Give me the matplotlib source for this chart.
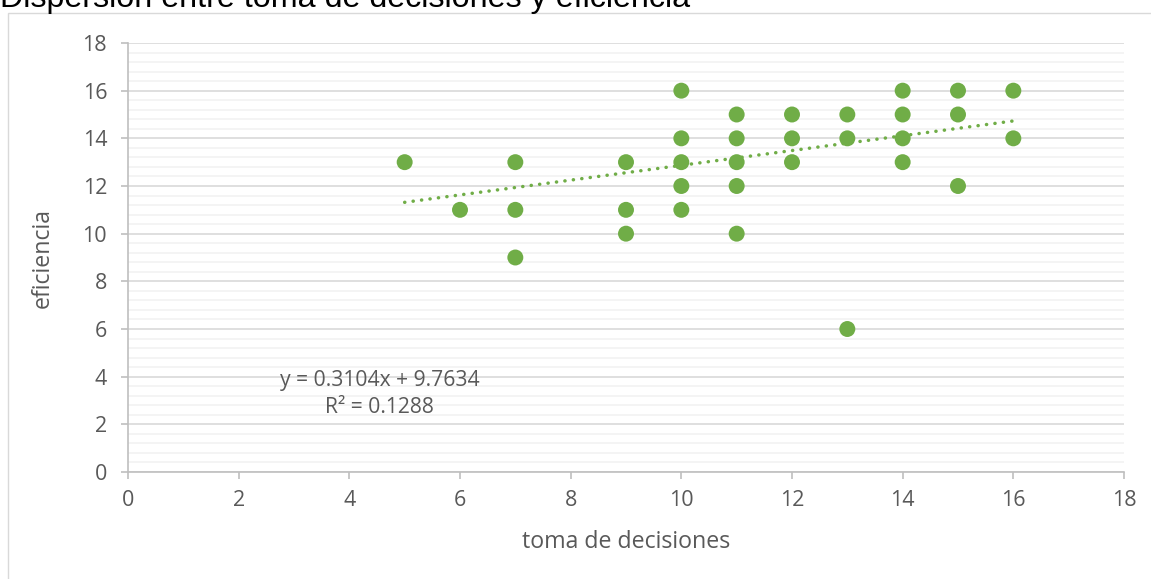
import matplotlib
matplotlib.use("Agg")
import matplotlib.pyplot as plt
from matplotlib.ticker import MultipleLocator
from matplotlib.patches import Rectangle
import numpy as np

plt.rcParams['font.family'] = ['Open Sans', 'DejaVu Sans']

toma_decisiones = [5, 6, 7, 7, 7, 9, 9, 9, 10, 10, 10, 10, 10, 11, 11, 11, 11, 11,
                   12, 12, 12, 13, 13, 13, 14, 14, 14, 14, 15, 15, 15, 16, 16]
eficiencia = [13, 11, 13, 11, 9, 13, 11, 10, 16, 14, 13, 12, 11, 15, 14, 13, 12, 10,
              15, 14, 13, 15, 14, 6, 16, 15, 14, 13, 16, 15, 12, 16, 14]
trend_slope = 0.3104
trend_intercept = 9.7634
r_squared = 0.1288

title = "Dispersión entre toma de decisiones y eficiencia"
x_label = "toma de decisiones"
y_label = "eficiencia"

green = "#70AD47"
text_col = "#595959"

W, H = 1151, 579
fig = plt.figure(figsize=(W / 100, H / 100), dpi=100)
ax = fig.add_axes([128 / W, 1 - 472 / H, (1124 - 128) / W, (472 - 43) / H])

# chart border
fig.patches.append(Rectangle((8 / W, -0.01), 1.2, 1 - 13 / H + 0.01, transform=fig.transFigure,
                             fill=False, edgecolor="#D9D9D9", linewidth=1.0))

ax.set_xlim(0, 18)
ax.set_ylim(0, 18)
ax.xaxis.set_major_locator(MultipleLocator(2))
ax.yaxis.set_major_locator(MultipleLocator(2))
ax.yaxis.set_minor_locator(MultipleLocator(0.4))
ax.grid(which='major', axis='y', color="#D9D9D9", linewidth=1.2, zorder=0)
ax.grid(which='minor', axis='y', color="#F2F2F2", linewidth=1.2, zorder=0)
ax.set_axisbelow(True)

for s in ['top', 'right']:
    ax.spines[s].set_visible(False)
for s in ['left', 'bottom']:
    ax.spines[s].set_color("#BFBFBF")
    ax.spines[s].set_linewidth(1.2)

ax.tick_params(axis='both', which='major', length=5, width=1.2, color="#BFBFBF",
               labelcolor=text_col, labelsize=15.5)
ax.tick_params(axis='y', which='minor', length=0)
ax.tick_params(axis='x', pad=8)
ax.tick_params(axis='y', pad=10)

ax.scatter(toma_decisiones, eficiencia, s=132, color=green, edgecolors='none', zorder=3)

xs = np.array([min(toma_decisiones), max(toma_decisiones)])
ax.plot(xs, trend_slope * xs + trend_intercept, color=green, linewidth=2.5,
        linestyle=(0, (0.05, 2.4)), dash_capstyle='round', zorder=4)

ax.text(4.55, 3.82, f"y = {trend_slope}x + {trend_intercept}", ha='center', va='center',
        fontsize=15.2, color=text_col)
ax.text(4.55, 2.69, f"R² = {r_squared}", ha='center', va='center',
        fontsize=15.2, color=text_col)

ax.set_xlabel(x_label, fontsize=16.7, color=text_col, labelpad=14)
ax.set_ylabel(y_label, fontsize=16.7, color=text_col, labelpad=20)

fig.text(0.0, 1 - 7 / H, title, fontsize=23.2, color="#000000", ha='left', va='baseline',
         family=['Liberation Sans', 'DejaVu Sans'])

fig.savefig("out.png", dpi=100)
